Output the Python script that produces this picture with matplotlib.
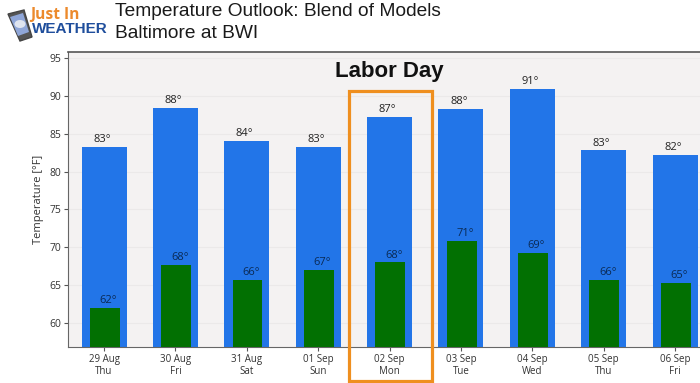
import matplotlib
matplotlib.use("Agg")
import matplotlib.pyplot as plt
from matplotlib.patches import Rectangle, Polygon, Ellipse, Circle

days = ["29 Aug\nThu", "30 Aug\nFri", "31 Aug\nSat", "01 Sep\nSun", "02 Sep\nMon",
        "03 Sep\nTue", "04 Sep\nWed", "05 Sep\nThu", "06 Sep\nFri"]
highs = [83.2, 88.4, 84.1, 83.2, 87.2, 88.3, 90.9, 82.8, 82.2]
lows = [62.0, 67.7, 65.7, 67.0, 68.0, 70.8, 69.2, 65.7, 65.3]
high_labels = [83, 88, 84, 83, 87, 88, 91, 83, 82]
low_labels = [62, 68, 66, 67, 68, 71, 69, 66, 65]
yticks = [60, 65, 70, 75, 80, 85, 90, 95]

W, H = 700, 383
fig = plt.figure(figsize=(7, 3.83), dpi=100, facecolor="white")
ax = fig.add_axes([68/W, 1-347/H, (W-68)/W, (347-52)/H])
ax.set_facecolor("#f4f2f2")
xs = list(range(len(days)))
ax.bar(xs, highs, width=0.63, color="#2275e8", zorder=2)
ax.bar([x+0.01 for x in xs], lows, width=0.42, color="#027002", zorder=3)
ax.set_xlim(-0.505, 8.35)
ax.set_ylim(56.83, 95.8)
ax.set_yticks(yticks)
ax.set_xticks(xs)
ax.set_xticklabels(days, fontsize=7, family="Open Sans", color="#333333", linespacing=1.15)
ax.tick_params(axis="y", labelsize=7.5, length=3, color="#555555", labelcolor="#333333", pad=2)
ax.tick_params(axis="x", length=3, color="#555555", pad=2)
for t in ax.get_yticklabels():
    t.set_family("Open Sans")
ax.grid(axis="y", color="#ebe9e9", lw=0.8, zorder=1)
ax.set_axisbelow(True)
ax.set_ylabel("Temperature [°F]", fontsize=8, family="Open Sans", color="#333333", labelpad=4)
for s in ["top", "right"]:
    ax.spines[s].set_visible(False)
ax.plot([0, 1], [1, 1], transform=ax.transAxes, color="#555555", lw=1.2, clip_on=False, zorder=5)
for s in ["left", "bottom"]:
    ax.spines[s].set_color("#666666")
for x, h, l, hl, ll in zip(xs, highs, lows, high_labels, low_labels):
    ax.text(x-0.03, h+0.25, f"{hl}°", ha="center", va="bottom", fontsize=8, family="Open Sans", color="#222222", zorder=6)
    ax.text(x+0.06, l+0.25, f"{ll}°", ha="center", va="bottom", fontsize=8, family="Open Sans", color="#0a2a55", zorder=6)

# overlay in pixel coordinates
ov = fig.add_axes([0, 0, 1, 1], facecolor="none")
ov.set_xlim(0, W); ov.set_ylim(H, 0); ov.axis("off")
ov.add_patch(Rectangle((348.5, 90.5), 83, 290, fill=False, ec="#ef8f1f", lw=2.3))
ov.text(389, 71, "Labor Day", ha="center", va="center", fontsize=16, fontweight="bold", family="Liberation Sans", color="#111111")
ov.text(115, 12, "Temperature Outlook: Blend of Models", ha="left", va="center", fontsize=13.75, family="Liberation Sans", color="#1a1a1a")
ov.text(115, 34, "Baltimore at BWI", ha="left", va="center", fontsize=13.75, family="Liberation Sans", color="#1a1a1a")
ov.text(30, 15, "Just In", ha="left", va="center", fontsize=11.2, fontweight="bold", family="Open Sans", color="#ec8a2c")
ov.text(32, 29, "WEATHER", ha="left", va="center", fontsize=11, fontweight="bold", family="Liberation Sans", color="#1f4e9c")
ov.add_patch(Polygon([(8, 14), (24, 10), (32, 37), (20, 41)], closed=True, fc="#555555", ec="#444444", lw=1, zorder=3))
ov.add_patch(Polygon([(10, 17), (23, 13), (29, 32), (18, 36)], closed=True, fc="#8fa6d8", ec="none", zorder=4))
ov.add_patch(Ellipse((20, 24), 11, 8, fc="#dfe4ef", ec="none", zorder=5))
fig.savefig("out.png", dpi=100)
